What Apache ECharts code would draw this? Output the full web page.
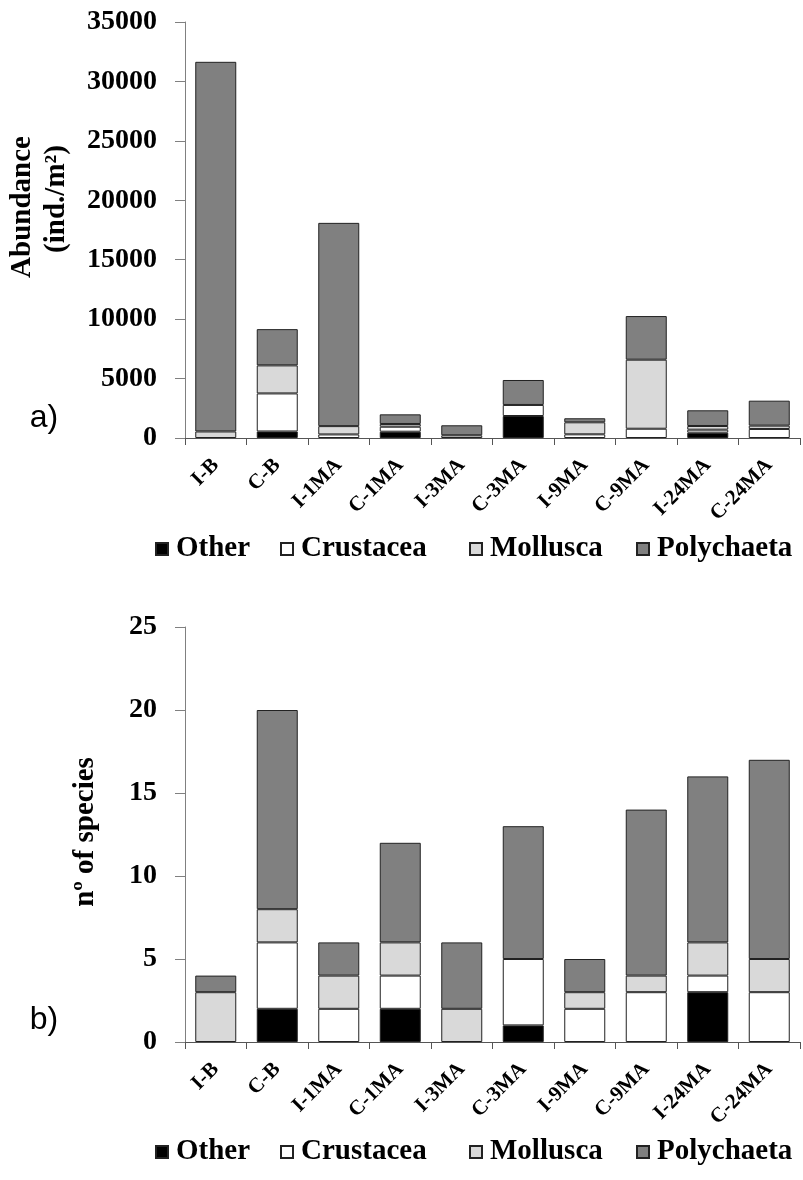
<!DOCTYPE html>
<html>
<head>
<meta charset="utf-8">
<script src="https://cdn.jsdelivr.net/npm/echarts@6/dist/echarts.min.js"></script>
<style>
  html, body { margin: 0; padding: 0; background: #fff; }
  #chart { width: 803px; height: 1180px; }
</style>
</head>
<body>
<div id="chart"></div>
<script>
// Sampling stations (I = impacted, C = control; B = before, nMA = months after)
const categories = ['I-B', 'C-B', 'I-1MA', 'C-1MA', 'I-3MA', 'C-3MA', 'I-9MA', 'C-9MA', 'I-24MA', 'C-24MA'];
const groupNames = ['Other', 'Crustacea', 'Mollusca', 'Polychaeta'];

// a) Abundance (ind./m2) per group
const abundanceOther      = [0, 550, 0, 530, 0, 1850, 0, 0, 450, 0];
const abundanceCrustacea  = [0, 3200, 300, 420, 0, 930, 310, 780, 250, 760];
const abundanceMollusca   = [550, 2360, 700, 230, 230, 0, 1010, 5810, 310, 280];
const abundancePolychaeta = [31100, 3050, 17100, 810, 840, 2100, 340, 3670, 1320, 2100];

// b) Number of species per group
const speciesOther      = [0, 2, 0, 2, 0, 1, 0, 0, 3, 0];
const speciesCrustacea  = [0, 4, 2, 2, 0, 4, 2, 3, 1, 3];
const speciesMollusca   = [3, 2, 2, 2, 2, 0, 1, 1, 2, 2];
const speciesPolychaeta = [1, 12, 2, 6, 4, 8, 2, 10, 10, 12];

// Axis ticks
const abundanceAxis = { min: 0, max: 35000, interval: 5000 };
const speciesAxis = { min: 0, max: 25, interval: 5 };

const groupColors = ['#000000', '#ffffff', '#d9d9d9', '#808080'];
const serif = '"Liberation Serif", "Times New Roman", serif';

const abundanceData = [abundanceOther, abundanceCrustacea, abundanceMollusca, abundancePolychaeta];
const speciesData = [speciesOther, speciesCrustacea, speciesMollusca, speciesPolychaeta];

function stackedSeries(data, axisIndex, stackId) {
  return groupNames.map((name, i) => ({
    name: name,
    type: 'bar',
    stack: stackId,
    xAxisIndex: axisIndex,
    yAxisIndex: axisIndex,
    barWidth: 41,
    // empty segments are left out so they draw no outline
    data: data[i].map(v => (v === 0 ? null : v)),
    itemStyle: { color: groupColors[i], borderColor: '#222', borderWidth: 1 },
    emphasis: { disabled: true }
  }));
}

function categoryAxis(gridIndex) {
  return {
    type: 'category',
    gridIndex: gridIndex,
    data: categories,
    axisLine: { lineStyle: { color: '#555', width: 1 } },
    axisTick: { show: true, inside: false, length: 7, lineStyle: { color: '#555' } },
    axisLabel: {
      rotate: 45,
      margin: 24,
      interval: 0,
      fontFamily: serif,
      fontWeight: 'bold',
      fontSize: 21,
      color: '#000'
    }
  };
}

function valueAxis(gridIndex, range) {
  return {
    type: 'value',
    gridIndex: gridIndex,
    min: range.min,
    max: range.max,
    interval: range.interval,
    splitLine: { show: false },
    axisLine: { show: true, lineStyle: { color: '#808080', width: 1 } },
    axisTick: { show: true, inside: false, length: 10, lineStyle: { color: '#808080' } },
    axisLabel: {
      margin: 28,
      formatter: v => String(v),
      fontFamily: serif,
      fontWeight: 'bold',
      fontSize: 28,
      color: '#000'
    }
  };
}

// One legend per entry so each swatch sits at its own position
const legendLefts = [155, 280, 469, 636];
function legendRow(top) {
  return groupNames.map((name, i) => ({
    data: [name],
    left: legendLefts[i],
    top: top,
    icon: 'rect',
    itemWidth: 12,
    itemHeight: 12,
    padding: 0,
    selectedMode: false,
    textStyle: {
      fontFamily: serif,
      fontWeight: 'bold',
      fontSize: 29,
      lineHeight: 30,
      color: '#000',
      padding: [0, 0, 0, 3]
    }
  }));
}

function titleText(x, y, text, font, rotate) {
  return {
    type: 'text',
    x: x,
    y: y,
    rotation: rotate ? Math.PI / 2 : 0,
    style: {
      text: text,
      font: font,
      fill: '#000',
      align: 'center',
      verticalAlign: 'middle'
    }
  };
}

const chart = echarts.init(document.getElementById('chart'), null, { renderer: 'canvas' });

chart.setOption({
  animation: false,
  backgroundColor: '#ffffff',
  grid: [
    { left: 185, top: 22, width: 615, height: 416 },
    { left: 185, top: 627, width: 615, height: 415 }
  ],
  xAxis: [categoryAxis(0), categoryAxis(1)],
  yAxis: [valueAxis(0, abundanceAxis), valueAxis(1, speciesAxis)],
  legend: legendRow(534).concat(legendRow(1137)),
  series: stackedSeries(abundanceData, 0, 'abundance').concat(stackedSeries(speciesData, 1, 'species')),
  graphic: [
    titleText(23, 207, 'Abundance', 'bold 29px ' + serif, true),
    titleText(57, 199, '(ind./m²)', 'bold 29px ' + serif, true),
    titleText(86, 832, 'nº of species', 'bold 29px ' + serif, true),
    titleText(44, 418, 'a)', '32px "Liberation Sans", Arial, sans-serif', false),
    titleText(44, 1020, 'b)', '32px "Liberation Sans", Arial, sans-serif', false)
  ]
});
</script>
</body>
</html>
